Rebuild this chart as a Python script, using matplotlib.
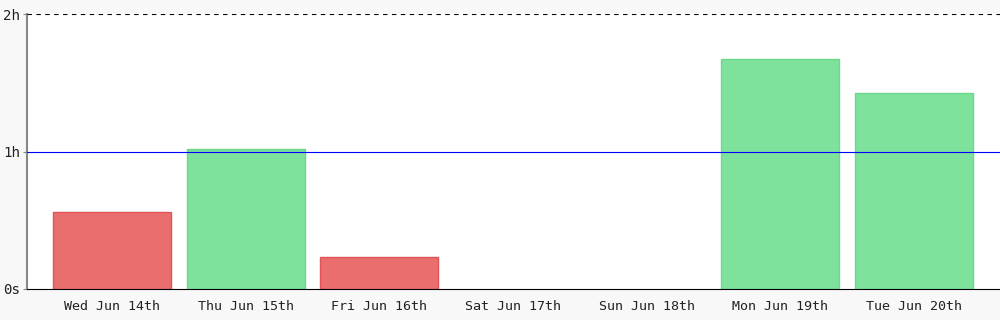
import matplotlib
matplotlib.use('Agg')
import matplotlib.pyplot as plt

# Daily time in minutes, goal is 1 hour
days = ['Wed Jun 14th', 'Thu Jun 15th', 'Fri Jun 16th', 'Sat Jun 17th',
        'Sun Jun 18th', 'Mon Jun 19th', 'Tue Jun 20th']
minutes = [33.6, 61.0, 14.0, 0, 0, 100.4, 85.5]
goal = 60
y_ticks = [0, 60, 120]
y_labels = ['0s', '1h', '2h']

fill = ['#7ee29d' if m >= goal else '#eb6e6e' for m in minutes]
edge = ['#6ad98b' if m >= goal else '#dd5555' for m in minutes]
lw = [1 if m > 0 else 0 for m in minutes]

fig = plt.figure(figsize=(10, 3.2), dpi=100)
fig.patch.set_facecolor('#f8f8f8')
ax = fig.add_axes([0.027, 0.097, 0.973, 0.859])
ax.set_facecolor('white')

x = list(range(len(days)))
ax.bar(x, minutes, width=0.883, color=fill, edgecolor=edge, linewidth=lw, zorder=2)

ax.axhline(goal, color='#0000ff', linewidth=0.8, zorder=3)
ax.axhline(120, color='black', linewidth=0.8, linestyle=(0, (4, 4)), zorder=3)

ax.set_xlim(-0.636, 6.643)
ax.set_ylim(0, 120)
ax.set_xticks(x)
ax.set_xticklabels(days, family='DejaVu Sans Mono', fontsize=9.6, color='#222222')
ax.set_yticks(y_ticks)
ax.set_yticklabels(y_labels, family='DejaVu Sans Mono', fontsize=10.2, color='#222222')
ax.tick_params(axis='x', length=0, pad=8)
ax.tick_params(axis='y', length=3, width=0.8, color='#888888', pad=2)

for s in ['top', 'right']:
    ax.spines[s].set_visible(False)
ax.spines['left'].set_color('#888888')
ax.spines['left'].set_linewidth(1.5)
ax.spines['bottom'].set_color('black')
ax.spines['bottom'].set_linewidth(0.8)
ax.spines['bottom'].set_zorder(4)

fig.savefig('out.png', dpi=100, facecolor=fig.get_facecolor())
